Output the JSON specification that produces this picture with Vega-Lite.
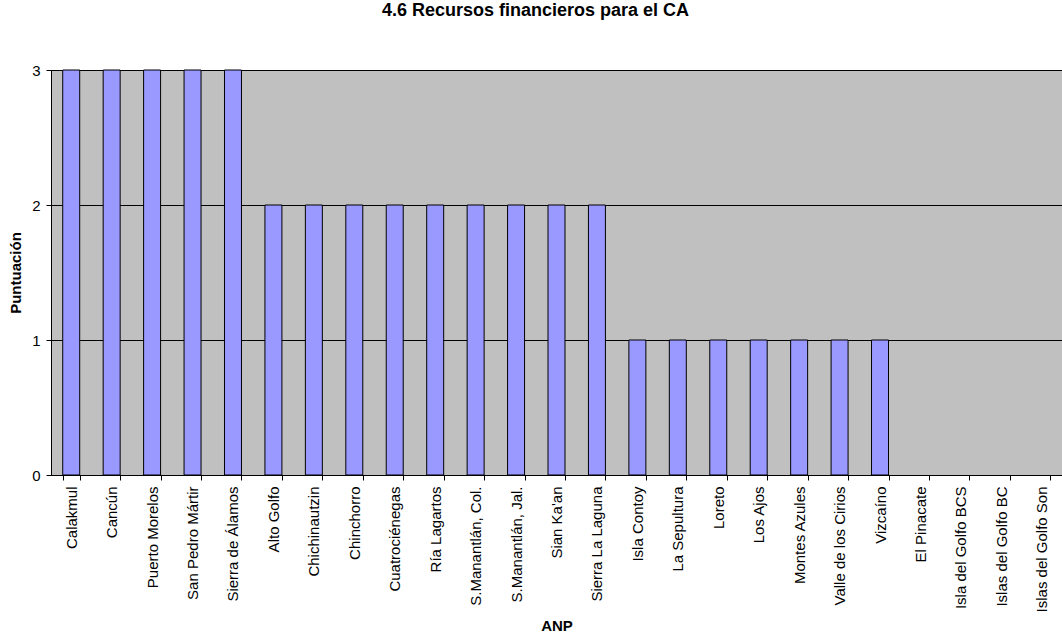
{
  "$schema": "https://vega.github.io/schema/vega-lite/v6.json",
  "autosize": "none",
  "width": 1011,
  "height": 405,
  "padding": {"left": 51, "top": 70, "right": 0, "bottom": 159},
  "background": "white",
  "title": {
    "text": "4.6 Recursos financieros para el CA",
    "font": "Liberation Sans",
    "fontSize": 18,
    "fontWeight": "bold",
    "color": "black",
    "anchor": "middle",
    "offset": 43,
    "dx": -21
  },
  "config": {
    "view": {"fill": "#C0C0C0", "stroke": "#808080", "strokeWidth": 1},
    "axis": {"labelFont": "Liberation Sans", "titleFont": "Liberation Sans", "labelColor": "black", "titleColor": "black", "labelFontSize": 15, "titleFontSize": 15, "titleFontWeight": "bold", "domainColor": "black", "tickColor": "black"}
  },
  "data": {
    "values": [
      {"ANP": "Calakmul", "v": 3},
      {"ANP": "Cancún", "v": 3},
      {"ANP": "Puerto Morelos", "v": 3},
      {"ANP": "San Pedro Mártir", "v": 3},
      {"ANP": "Sierra de Álamos", "v": 3},
      {"ANP": "Alto Golfo", "v": 2},
      {"ANP": "Chichinautzin", "v": 2},
      {"ANP": "Chinchorro", "v": 2},
      {"ANP": "Cuatrociénegas", "v": 2},
      {"ANP": "Ría Lagartos", "v": 2},
      {"ANP": "S.Manantlán, Col.", "v": 2},
      {"ANP": "S.Manantlán, Jal.", "v": 2},
      {"ANP": "Sian Ka'an", "v": 2},
      {"ANP": "Sierra La Laguna", "v": 2},
      {"ANP": "Isla Contoy", "v": 1},
      {"ANP": "La Sepultura", "v": 1},
      {"ANP": "Loreto", "v": 1},
      {"ANP": "Los Ajos", "v": 1},
      {"ANP": "Montes Azules", "v": 1},
      {"ANP": "Valle de los Cirios", "v": 1},
      {"ANP": "Vizcaíno", "v": 1},
      {"ANP": "El Pinacate", "v": 0},
      {"ANP": "Isla del Golfo BCS", "v": 0},
      {"ANP": "Islas del Golfo BC", "v": 0},
      {"ANP": "Islas del Golfo Son", "v": 0}
    ]
  },
  "mark": {"type": "bar", "fill": "#9999FF", "stroke": "black", "strokeWidth": 1},
  "encoding": {
    "x": {
      "field": "ANP",
      "type": "nominal",
      "sort": null,
      "scale": {"paddingInner": 0.58, "paddingOuter": 0.29},
      "axis": {"title": "ANP", "labelAngle": -90, "tickBand": "extent", "grid": false, "tickSize": 5, "labelPadding": 6, "titleY": 150, "titleBaseline": "middle", "labelBaseline": "middle"}
    },
    "y": {
      "field": "v",
      "type": "quantitative",
      "scale": {"domain": [0, 3]},
      "axis": {"title": "Puntuación", "values": [0, 1, 2, 3], "format": "d", "grid": true, "gridColor": "black", "gridWidth": 1, "tickSize": 5, "labelPadding": 6, "titleX": -36, "titleBaseline": "middle"}
    },
    "strokeOpacity": {"condition": {"test": "datum.v === 0", "value": 0}, "value": 1}
  }
}
